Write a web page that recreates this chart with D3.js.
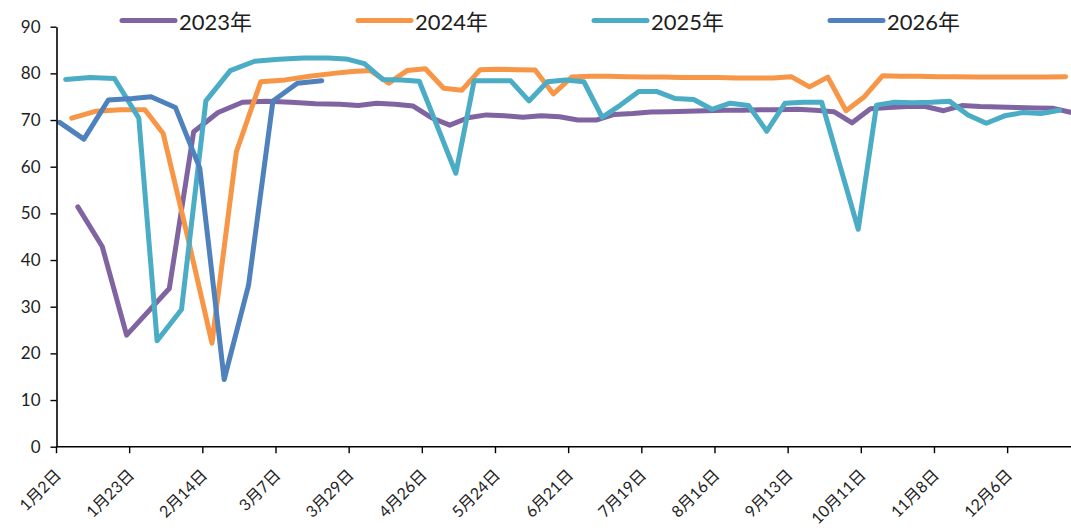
<!DOCTYPE html>
<html>
<head>
<meta charset="utf-8">
<script src="https://cdn.jsdelivr.net/npm/d3@7"></script>
<style>
  html, body { margin: 0; padding: 0; background: #fff; }
  svg { display: block; }
  text { font-family: "Lato", "Noto Sans CJK SC", sans-serif; fill: #1e1e1e; }
</style>
</head>
<body>
<svg id="chart" width="1071" height="532"></svg>
<script>
// Weekly readings, one value per Friday starting from each year's first Friday.
// null marks a week with no reading (holiday week).
const seriesNames  = ["2023年", "2024年", "2025年", "2026年"];
const seriesStarts = ["2023-01-06", "2024-01-05", "2025-01-03", "2026-01-02"];
const seriesColors = ["#8064A2", "#F79646", "#4BACC6", "#4F81BD"];

const values2023 = [
  51.4, 42.9, 23.9, null, 33.9, 67.5, 71.6, 73.8, 74.0, 73.8, 73.5, 73.4,
  73.1, 73.6, 73.4, 73.0, 70.5, 68.9, 70.5, 71.1, 70.9, 70.6, 70.9, 70.7,
  70.0, 70.0, 71.2, 71.4, 71.7, 71.8, 71.9, 72.0, 72.1, 72.1, 72.2, 72.2,
  72.3, 72.1, 71.8, 69.4, 72.4, 72.7, 72.9, 72.9, 72.0, 73.1, 72.9, 72.8,
  72.7, 72.6, 72.5, 71.6
];
const values2024 = [
  70.4, 71.9, 72.2, 72.2, 67.1, 45.0, 22.2, 63.2, 78.2, 78.6, 79.4, 80.0,
  80.4, 80.6, 77.9, 80.6, 81.0, 76.8, 76.4, 80.8, 80.9, 80.8, 80.7, 75.6,
  79.2, 79.4, 79.4, 79.3, 79.2, 79.2, 79.1, 79.1, 79.1, 79.0, 79.0, 79.0,
  79.3, 77.1, 79.2, 72.0, 75.0, 79.5, 79.4, 79.4, 79.3, 79.3, 79.2, 79.2,
  79.2, 79.2, 79.2, 79.3
];
const values2025 = [
  78.7, 79.1, 78.9, 70.4, 22.7, 29.4, 74.1, 80.6, 82.6, 83.0, 83.3, 83.3,
  83.1, 82.1, 78.7, 78.6, 78.3, 68.5, 58.6, 78.4, 78.4, 78.4, 74.1, 78.2,
  78.6, 78.2, 70.6, 73.2, 76.1, 76.1, 74.6, 74.4, 72.3, 73.6, 73.1, 67.6,
  73.6, 73.8, 73.8, 60.2, 46.6, 73.2, 73.8, 73.7, 73.8, 74.0, 71.1, 69.3,
  70.9, 71.6, 71.4, 72.1
];
const values2026 = [
  69.5, 65.9, 74.3, 74.6, 75.0, 72.7, 59.7, 14.4, 34.6, 74.1, 77.9, 78.4
];
const seriesValues = [values2023, values2024, values2025, values2026];

const yTicks = [0, 10, 20, 30, 40, 50, 60, 70, 80, 90];
const labelEvery = 12;   // one date label per twelve categories

// ---- build dated points; the shared axis is the sorted set of month-day dates
const parse = d3.timeParse("%Y-%m-%d");
const series = seriesNames.map((name, s) => {
  const start = parse(seriesStarts[s]);
  const pts = [];
  seriesValues[s].forEach((v, i) => {
    if (v === null) return;
    const d = d3.timeDay.offset(start, 7 * i);
    pts.push({ key: (d.getMonth() + 1) * 100 + d.getDate(), m: d.getMonth() + 1, day: d.getDate(), v });
  });
  return { name, color: seriesColors[s], pts };
});

const catMap = new Map();
series.forEach(s => s.pts.forEach(p => catMap.set(p.key, p)));
const categories = Array.from(catMap.keys()).sort((a, b) => a - b);

// ---- layout
const W = 1071;
const plotLeft = 56.5, plotBottom = 446.7, plotTop = 26.7;
const catWidth = 6.097;

const x = d3.scaleBand()
  .domain(categories)
  .range([plotLeft, plotLeft + categories.length * catWidth])
  .padding(0);
const y = d3.scaleLinear().domain([0, 90]).range([plotBottom, plotTop]);
const cx = k => x(k) + x.bandwidth() / 2;

const svg = d3.select("#chart");

// ---- lines
const line = d3.line().x(p => cx(p.key)).y(p => y(p.v));
svg.append("g").selectAll("path")
  .data(series)
  .join("path")
  .attr("d", s => line(s.pts))
  .attr("fill", "none")
  .attr("stroke", s => s.color)
  .attr("stroke-width", 5)
  .attr("stroke-linejoin", "round")
  .attr("stroke-linecap", "round");

// ---- y axis
const yAxis = svg.append("g")
  .attr("transform", `translate(${plotLeft},0)`)
  .call(d3.axisLeft(y).tickValues(yTicks).tickSize(6).tickPadding(10).tickSizeOuter(0));
yAxis.select(".domain").attr("stroke", "#000").attr("stroke-width", 1.6);
yAxis.selectAll(".tick line").attr("stroke", "#000").attr("stroke-width", 1.4);
yAxis.selectAll(".tick text")
  .attr("font-size", 17)
  .attr("fill", "#1e1e1e")
  .style("font-family", '"Lato","Noto Sans CJK SC",sans-serif');

// ---- x axis
const labelCats = categories.filter((k, i) => i % labelEvery === 0);
const xAxis = svg.append("g");
xAxis.append("line")
  .attr("x1", plotLeft).attr("x2", W)
  .attr("y1", plotBottom).attr("y2", plotBottom)
  .attr("stroke", "#000").attr("stroke-width", 1.6);
xAxis.selectAll("line.tick")
  .data(labelCats)
  .join("line")
  .attr("class", "tick")
  .attr("x1", k => x(k)).attr("x2", k => x(k))
  .attr("y1", plotBottom).attr("y2", plotBottom + 6.5)
  .attr("stroke", "#000").attr("stroke-width", 1.4);
xAxis.selectAll("text")
  .data(labelCats)
  .join("text")
  .attr("transform", k => `translate(${x(k) + 1},${plotBottom + 25}) rotate(-45)`)
  .attr("text-anchor", "end")
  .attr("dominant-baseline", "central")
  .attr("font-size", 16)
  .text(k => `${catMap.get(k).m}月${catMap.get(k).day}日`);

// ---- legend
const legendX0 = 122, legendStep = 236, legendY = 20.5;
const legend = svg.append("g").selectAll("g")
  .data(series)
  .join("g")
  .attr("transform", (s, i) => `translate(${legendX0 + i * legendStep},${legendY})`);
legend.append("line")
  .attr("x1", 0).attr("x2", 53)
  .attr("stroke", s => s.color)
  .attr("stroke-width", 5)
  .attr("stroke-linecap", "round");
legend.append("text")
  .attr("x", 57)
  .attr("y", 1)
  .attr("dominant-baseline", "central")
  .attr("font-size", 22)
  .text(s => s.name);
</script>
</body>
</html>
